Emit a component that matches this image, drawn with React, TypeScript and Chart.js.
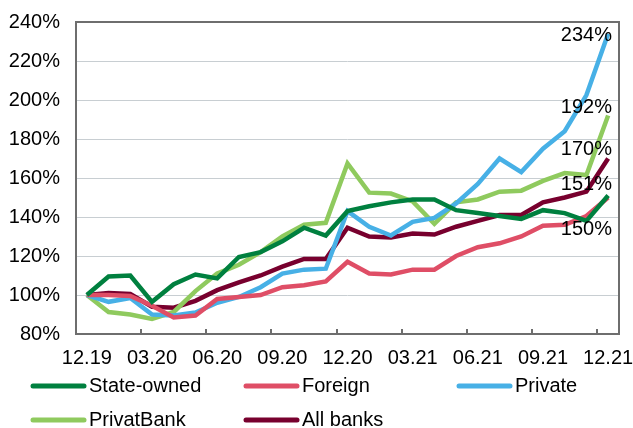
import React, { useEffect, useRef } from 'react';
import { Chart, registerables } from 'chart.js';

Chart.register(...registerables);

const months = [
  '12.19', '01.20', '02.20', '03.20', '04.20', '05.20', '06.20', '07.20', '08.20', '09.20', '10.20', '11.20', '12.20',
  '01.21', '02.21', '03.21', '04.21', '05.21', '06.21', '07.21', '08.21', '09.21', '10.21', '11.21', '12.21',
];

const stateOwned = [100, 109.5, 110, 96.5, 105.5, 110.5, 108.5, 119.5, 122, 127.5, 134.5, 130.5, 143, 145.5, 147.5, 149, 149, 143.5, 142, 140.5, 139, 143.5, 142, 138, 151];
const foreign = [100, 100, 99.5, 94.5, 88.5, 89.5, 98, 99, 100, 104, 105, 107, 117, 111, 110.5, 113, 113, 120, 124.5, 126.5, 130, 135.5, 136, 140.5, 150];
const privateBanks = [100, 96.5, 98.5, 90, 89.5, 91, 96, 99, 104, 111, 113, 113.5, 143, 135, 130.5, 137.5, 139.5, 147, 157, 170, 163, 175, 184, 202.5, 234];
const privatBank = [100, 91.3, 90, 87.7, 91.3, 102, 111, 115.5, 122, 130, 136, 137, 167.5, 152.5, 152, 148, 136.5, 147.5, 149, 153, 153.5, 158.5, 162.5, 161.5, 192];
const allBanks = [100, 101, 100.5, 94, 93.5, 97, 102.5, 106.5, 110, 114.5, 118.5, 118.5, 134.5, 130, 129.5, 131.5, 131, 135, 138, 141, 141, 147.5, 150, 153, 170];

const seriesNames = ['State-owned', 'Foreign', 'Private', 'PrivatBank', 'All banks'];
const endLabels = ['234%', '192%', '170%', '151%', '150%'];

const FONT = "'Liberation Sans', Arial, sans-serif";

export default function App() {
  const ref = useRef<HTMLCanvasElement>(null);

  useEffect(() => {
    document.body.style.margin = '0';
    const canvas = ref.current!;
    const colors = ['#00803F', '#DF4E66', '#47B0E6', '#8FCA5E', '#78002E'];
    const values = [stateOwned, foreign, privateBanks, privatBank, allBanks];
    // vertical anchor (in axis units) for each end label
    const endLabelAnchors = [233.3, 196.4, 174.4, 156.9, 133.8];

    const framePlugin = {
      id: 'frame',
      beforeDatasetsDraw(chart: any) {
        const { ctx, chartArea: a, scales } = chart;
        const x = scales.x;
        ctx.save();
        ctx.strokeStyle = '#6e6e6e';
        ctx.lineWidth = 2;
        ctx.strokeRect(a.left, a.top, a.right - a.left, a.bottom - a.top);
        for (let i = 2; i < months.length - 1; i += 3) {
          const px = Math.round((x.getPixelForValue(i) + x.getPixelForValue(i + 1)) / 2);
          ctx.beginPath();
          ctx.moveTo(px, a.bottom);
          ctx.lineTo(px, a.bottom - 5);
          ctx.stroke();
        }
        ctx.restore();
      },
      afterDraw(chart: any) {
        const { ctx, chartArea: a, scales } = chart;
        ctx.save();
        ctx.font = `20px ${FONT}`;
        ctx.fillStyle = '#000';
        ctx.textAlign = 'right';
        ctx.textBaseline = 'middle';
        endLabels.forEach((t, i) => {
          ctx.fillText(t, a.right - 7, scales.y.getPixelForValue(endLabelAnchors[i]));
        });
        // legend
        const cols = [31, 244, 457];
        const rows = [386, 420];
        chart.data.datasets.forEach((ds: any, i: number) => {
          const cx = cols[i % 3];
          const cy = rows[Math.floor(i / 3)];
          ctx.strokeStyle = ds.borderColor;
          ctx.lineWidth = 5;
          ctx.lineCap = 'round';
          ctx.beginPath();
          ctx.moveTo(cx + 2, cy);
          ctx.lineTo(cx + 53, cy);
          ctx.stroke();
          ctx.textAlign = 'left';
          ctx.fillStyle = '#000';
          ctx.fillText(ds.label, cx + 58, cy);
        });
        ctx.restore();
      },
    };

    const chart = new Chart(canvas, {
      type: 'line',
      data: {
        labels: months,
        datasets: values.map((v, i) => ({
          label: seriesNames[i],
          data: v,
          borderColor: colors[i],
          backgroundColor: colors[i],
          borderWidth: 4.5,
          pointRadius: 0,
          tension: 0,
          fill: false,
        })),
      },
      options: {
        responsive: false,
        animation: false,
        devicePixelRatio: 1,
        layout: { padding: { left: 0, right: 14, top: 22, bottom: 44 } },
        plugins: { legend: { display: false }, tooltip: { enabled: false } },
        font: { family: FONT },
        scales: {
          x: {
            type: 'category',
            offset: true,
            grid: { display: false, drawTicks: false },
            border: { display: false },
            ticks: {
              autoSkip: false,
              maxRotation: 0,
              minRotation: 0,
              padding: 12,
              color: '#000',
              font: { size: 20, family: FONT },
              callback: (_v: any, i: number) => (i % 3 === 0 ? months[i] : ''),
            },
            afterFit: (s: any) => { s.height = 50; s.paddingLeft = 0; s.paddingRight = 0; },
          },
          y: {
            min: 80,
            max: 240,
            ticks: {
              stepSize: 20,
              padding: 16,
              color: '#000',
              font: { size: 20, family: FONT },
              callback: (v: any) => `${v}%`,
            },
            grid: { color: '#c8ced2', lineWidth: 1, drawTicks: false },
            border: { display: false },
            afterFit: (s: any) => { s.width = 76; s.paddingTop = 0; s.paddingBottom = 0; },
          },
        },
      } as any,
      plugins: [framePlugin],
    });
    return () => chart.destroy();
  }, []);

  return (
    <div style={{ width: 633, height: 428 }}>
      <canvas ref={ref} width={633} height={428} />
    </div>
  );
}
